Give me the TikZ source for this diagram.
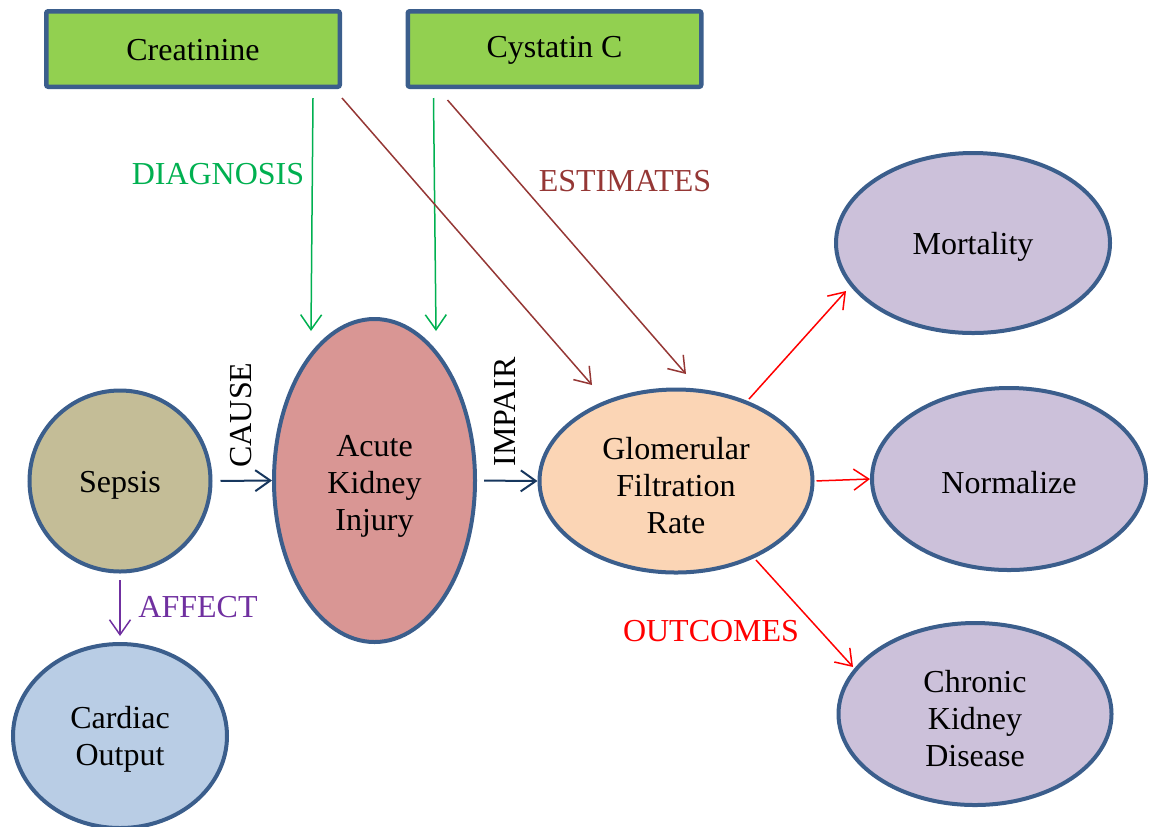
\documentclass[tikz,border=0pt]{standalone}
\usepackage{fontspec}
\setmainfont{Liberation Serif}
\usetikzlibrary{shapes.geometric,arrows.meta,calc}

\definecolor{edgeblue}{HTML}{3B5E8C}
\definecolor{boxgreen}{HTML}{92D050}
\definecolor{sepsisfill}{HTML}{C4BD97}
\definecolor{akifill}{HTML}{D99694}
\definecolor{gfrfill}{HTML}{FBD5B5}
\definecolor{outfill}{HTML}{CCC1DA}
\definecolor{heartfill}{HTML}{B9CDE5}
\definecolor{navyline}{HTML}{17375E}
\definecolor{diaggreen}{HTML}{00B050}
\definecolor{estbrown}{HTML}{953735}
\definecolor{affpurple}{HTML}{7030A0}

\newcommand{\lift}[1][16pt]{\rule{0pt}{#1}}

\begin{document}
\begin{tikzpicture}[x=0.5pt,y=-0.5pt,
        every node/.style={font=\fontsize{16}{18.5}\selectfont, align=center},
        testbox/.style={draw=edgeblue, line width=2.25pt, fill=boxgreen, rounded corners=1pt,
            minimum width=146.75pt, minimum height=37.75pt, inner sep=0pt},
        blob/.style={ellipse, draw=edgeblue, line width=2pt, inner sep=0pt},
        link/.style={-{Straight Barb[length=7.5pt,width=10.5pt]}, line width=0.75pt}]
        \useasboundingbox (0,0) rectangle (1149,826);

        \node[testbox] (creat) at (193,49) {\lift[12pt]Creatinine};
        \node[testbox] (cyst) at (554.5,49) {\lift[12pt]Cystatin C};

        \node[blob, fill=sepsisfill, minimum width=90.5pt, minimum height=90.5pt] (sepsis) at (120,481) {\lift[15pt]Sepsis};
        \node[blob, fill=heartfill, minimum width=107pt, minimum height=92pt] (cardiac) at (120,736) {\lift[14pt]Cardiac\\Output};
        \node[blob, fill=akifill, minimum width=100.5pt, minimum height=161.5pt] (aki) at (374.5,480.5) {\lift Acute\\Kidney\\Injury};
        \node[blob, fill=gfrfill, minimum width=136.5pt, minimum height=91.5pt] (gfr) at (676,481) {\lift Glomerular\\Filtration\\Rate};
        \node[blob, fill=outfill, minimum width=137pt, minimum height=90pt] (mort) at (973,243) {\lift[15pt]Mortality};
        \node[blob, fill=outfill, minimum width=137pt, minimum height=91pt] (norm) at (1009,479) {\lift[15pt]Normalize};
        \node[blob, fill=outfill, minimum width=136.5pt, minimum height=91pt] (ckd) at (975,714) {\lift Chronic\\Kidney\\Disease};

        \draw[link, diaggreen] ($(creat.south east)+(-29,9)$) -- ($(aki.north)+(-63.5,14)$);
        \draw[link, diaggreen] ($(cyst.south west)+(28,9)$) -- ($(aki.north)+(61.5,14)$);
        \draw[link, estbrown] ($(creat.south east)+(0,9)$) -- ($(gfr.north)+(-84,-2.5)$);
        \draw[link, estbrown] ($(cyst.south west)+(42,11)$) -- ($(gfr.north)+(10,-13.5)$);

        \draw[link, navyline, line width=1pt, shorten <=4pt] (sepsis.east) -- (aki.west);
        \draw[link, navyline, line width=1pt, shorten <=3.5pt] (aki.east) -- (gfr.west);
        \draw[link, affpurple, shorten <=3.25pt, shorten >=3pt] (sepsis.south) -- (cardiac.north);

        \draw[link, red] ($(gfr.center)+(73,-82)$) -- ($(mort.center)+(-127,48)$);
        \draw[link, red, shorten <=1pt] (gfr.east) -- (norm.west);
        \draw[link, red] ($(gfr.center)+(80,79)$) -- ($(ckd.center)+(-122,-47)$);

        \node[text=diaggreen] (diaglbl) at (218,174) {DIAGNOSIS};
        \node[text=estbrown] (estlbl) at (625,181) {ESTIMATES};
        \node[rotate=90] (causelbl) at (241,415) {CAUSE};
        \node[rotate=90] (impairlbl) at (505,412) {IMPAIR};
        \node[text=affpurple] (afflbl) at (198,607) {AFFECT};
        \node[text=red] (outlbl) at (711,631) {OUTCOMES};

    \end{tikzpicture}
\end{document}
